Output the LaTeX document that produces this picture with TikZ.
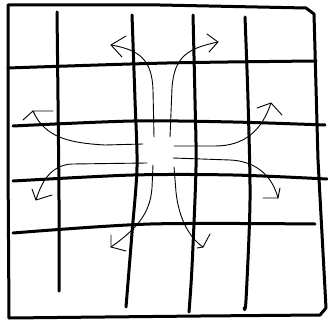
\documentclass[tikz,border=0pt]{standalone}
\begin{document}
\begin{tikzpicture}[x=1pt,y=-1pt,
  gridline/.style={line width=3pt,line cap=round,line join=round},
  flow/.style={line width=0.9pt,line cap=round,line join=round}]
\useasboundingbox (0,0) rectangle (328,320);
\fill[white] (0,0) rectangle (328,320);
% frame
\draw[gridline] (8,5) -- (160,5) -- (306,8) -- (314,14) -- (318,160) -- (326,308) -- (320,315) -- (200,316) -- (9,318) -- (8,160) -- cycle;
% vertical lines
\draw[gridline] plot[smooth] coordinates {(57,12) (58,100) (59,200) (59,291)};
\draw[gridline] plot[smooth] coordinates {(132,15) (135,100) (137,167) (132,233) (126,307)};
\draw[gridline] plot[smooth] coordinates {(193,15) (195,100) (196,167) (192,267) (189,312)};
\draw[gridline] plot[smooth] coordinates {(245,17) (248,100) (250,200) (246,300) (244,308)};
% horizontal lines
\draw[gridline] plot[smooth] coordinates {(8,68) (167,63) (316,61)};
\draw[gridline] plot[smooth] coordinates {(13,126) (133,121) (233,122) (325,125)};
\draw[gridline] plot[smooth] coordinates {(13,181) (133,175) (233,175) (327,179)};
\draw[gridline] plot[smooth] coordinates {(13,233) (150,224) (315,224)};
% arrows
% up-left
\draw[flow] (154,137) -- (153,90) .. controls (152,60) and (140,50) .. (111,45);
\draw[flow] (126,36) -- (111,45) -- (122,57);
% up-right
\draw[flow] (170,137) -- (172,88) .. controls (174,55) and (190,48) .. (218,42);
\draw[flow] (207,34) -- (218,42) -- (209,52);
% left-upper
\draw[flow] (143,144) -- (105,145) .. controls (70,143) and (45,138) .. (33,111);
\draw[flow] (53,111) -- (33,111) -- (23,120);
% left-lower
\draw[flow] (147,163) -- (72,164) .. controls (52,165) and (42,180) .. (36,200);
\draw[flow] (32,189) -- (36,200) -- (52,195);
% right-upper
\draw[flow] (174,146) -- (215,146) .. controls (245,146) and (262,130) .. (271,103);
\draw[flow] (257,108) -- (271,103) -- (282,115);
% right-lower
\draw[flow] (173,158) -- (230,160) .. controls (255,161) and (272,175) .. (278,198);
\draw[flow] (263,198) -- (278,198) -- (280,188);
% down-left
\draw[flow] (153,165) -- (152,188) .. controls (150,215) and (135,230) .. (111,247);
\draw[flow] (111,235) -- (111,247) -- (126,251);
% down-right
\draw[flow] (174,167) -- (176,192) .. controls (179,220) and (190,238) .. (203,247);
\draw[flow] (197,248) -- (203,247) -- (210,234);
\end{tikzpicture}
\end{document}
